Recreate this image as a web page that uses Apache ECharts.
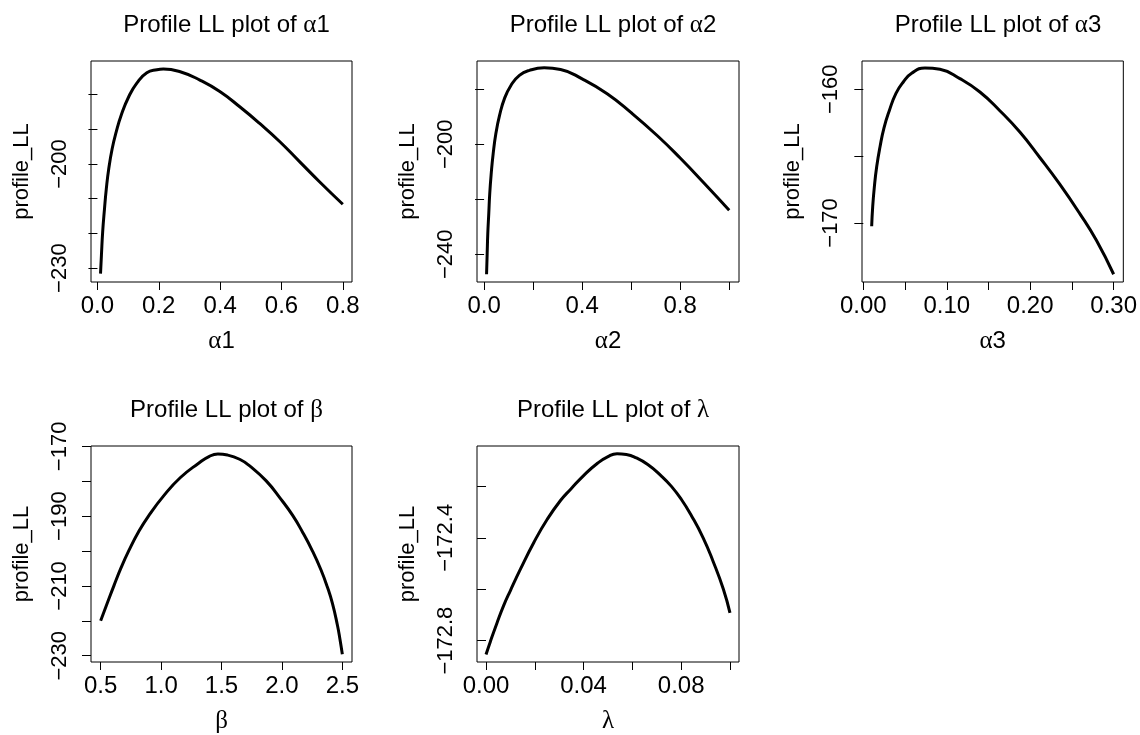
<!DOCTYPE html>
<html>
<head>
<meta charset="utf-8">
<title>Profile LL plots</title>
<script src="https://cdn.jsdelivr.net/npm/echarts@6/dist/echarts.min.js"></script>
<style>
  html, body { margin: 0; padding: 0; background: #fff; }
  #chart { width: 1140px; height: 735px; }
</style>
</head>
<body>
<div id="chart"></div>
<script>
// values
const alpha1X = [0.01, 0.013, 0.017, 0.023, 0.029, 0.037, 0.048, 0.061, 0.078, 0.102, 0.129, 0.161, 0.194, 0.215, 0.27, 0.334, 0.399, 0.464, 0.529, 0.594, 0.659, 0.724, 0.8]
const alpha1Y = [-231.6, -226.3, -219.6, -212.9, -207.1, -201.3, -195.6, -190.8, -185.8, -180.6, -176.6, -173.7, -172.8, -172.6, -173.4, -175.8, -179.1, -183.5, -188.3, -193.5, -199.3, -205.1, -211.6]

const alpha2X = [0.01, 0.0125, 0.015, 0.019, 0.023, 0.029, 0.037, 0.048, 0.063, 0.083, 0.11, 0.144, 0.185, 0.245, 0.312, 0.4, 0.502, 0.6, 0.706, 0.8, 0.897, 1.0]
const alpha2Y = [-247.3, -239.8, -232.5, -225.2, -217.9, -210.7, -203.4, -196.1, -189.5, -183.4, -178.5, -174.9, -173.1, -172.2, -172.8, -176.2, -181.6, -188.5, -196.8, -205.0, -214.1, -224.0]

const alpha3X = [0.01, 0.0112, 0.0132, 0.016, 0.02, 0.0247, 0.0311, 0.0391, 0.0479, 0.0579, 0.0738, 0.0918, 0.1157, 0.1397, 0.1636, 0.1876, 0.2115, 0.2354, 0.2594, 0.2793, 0.3]
const alpha3Y = [-170.25, -168.8, -167.3, -165.8, -164.3, -162.9, -161.6, -160.3, -159.45, -158.8, -158.4, -158.5, -159.2, -160.2, -161.6, -163.2, -165.1, -167.1, -169.3, -171.3, -173.84]

const betaX = [0.5, 0.555, 0.61, 0.67, 0.733, 0.815, 0.897, 1.021, 1.158, 1.308, 1.4, 1.47, 1.55, 1.65, 1.733, 1.87, 1.993, 2.089, 2.171, 2.253, 2.322, 2.377, 2.418, 2.459, 2.48, 2.5]
const betaY = [-220.0, -214.9, -209.9, -204.7, -199.9, -194.4, -189.9, -184.2, -179.0, -174.9, -172.85, -172.2, -172.5, -173.7, -175.6, -179.9, -185.2, -189.8, -194.6, -200.0, -205.3, -210.4, -215.0, -221.2, -225.2, -229.6]

const lambdaX = [0.0, 0.0018, 0.0045, 0.0073, 0.01, 0.0141, 0.0196, 0.0251, 0.0306, 0.0348, 0.0402, 0.0457, 0.05, 0.0537, 0.0575, 0.0609, 0.0663, 0.0718, 0.076, 0.0801, 0.0842, 0.089, 0.0931, 0.0973, 0.1]
const lambdaY = [-172.854, -172.803, -172.731, -172.662, -172.605, -172.522, -172.418, -172.328, -172.254, -172.21, -172.156, -172.11, -172.084, -172.073, -172.076, -172.086, -172.115, -172.159, -172.2, -172.251, -172.314, -172.4, -172.492, -172.6, -172.692]

// ticks and labelled ticks
const alpha1XTicks = [0, 0.2, 0.4, 0.6, 0.8]
const alpha1XLabels = [0, 0.2, 0.4, 0.6, 0.8]
const alpha1YTicks = [-180, -190, -200, -210, -220, -230]
const alpha1YLabels = [-200, -230]

const alpha2XTicks = [0, 0.2, 0.4, 0.6, 0.8, 1.0]
const alpha2XLabels = [0, 0.4, 0.8]
const alpha2YTicks = [-180, -200, -220, -240]
const alpha2YLabels = [-200, -240]

const alpha3XTicks = [0, 0.05, 0.1, 0.15, 0.2, 0.25, 0.3]
const alpha3XLabels = [0, 0.1, 0.2, 0.3]
const alpha3YTicks = [-160, -165, -170]
const alpha3YLabels = [-160, -170]

const betaXTicks = [0.5, 1.0, 1.5, 2.0, 2.5]
const betaXLabels = [0.5, 1.0, 1.5, 2.0, 2.5]
const betaYTicks = [-170, -180, -190, -200, -210, -220, -230]
const betaYLabels = [-170, -190, -210, -230]

const lambdaXTicks = [0, 0.02, 0.04, 0.06, 0.08, 0.1]
const lambdaXLabels = [0, 0.04, 0.08]
const lambdaYTicks = [-172.2, -172.4, -172.6, -172.8]
const lambdaYLabels = [-172.4, -172.8]

const SANS = 'Liberation Sans'
const GREEK = 'Liberation Serif'

// one panel = grid + x axis + y axis + line
const panels = [
  { sym: 'α', sub: '1', x: alpha1X, y: alpha1Y, xt: alpha1XTicks, xl: alpha1XLabels, yt: alpha1YTicks, yl: alpha1YLabels,
    xd: 1, yd: 0, xr: [-0.021, 0.83], yr: [-234.0, -170.3], box: [91, 61, 261, 221] },
  { sym: 'α', sub: '2', x: alpha2X, y: alpha2Y, xt: alpha2XTicks, xl: alpha2XLabels, yt: alpha2YTicks, yl: alpha2YLabels,
    xd: 1, yd: 0, xr: [-0.029, 1.04], yr: [-250.1, -169.7], box: [477, 61, 262, 221] },
  { sym: 'α', sub: '3', x: alpha3X, y: alpha3Y, xt: alpha3XTicks, xl: alpha3XLabels, yt: alpha3YTicks, yl: alpha3YLabels,
    xd: 2, yd: 0, xr: [-0.0016, 0.3116], yr: [-174.42, -157.88], box: [862, 61, 262, 221] },
  { sym: 'β', sub: '', x: betaX, y: betaY, xt: betaXTicks, xl: betaXLabels, yt: betaYTicks, yl: betaYLabels,
    xd: 1, yd: 0, xr: [0.42, 2.58], yr: [-231.8, -169.9], box: [91, 446, 261, 221] },
  { sym: 'λ', sub: '', x: lambdaX, y: lambdaY, xt: lambdaXTicks, xl: lambdaXLabels, yt: lambdaYTicks, yl: lambdaYLabels,
    xd: 2, yd: 1, xr: [-0.0037, 0.1037], yr: [-172.883, -172.043], box: [477, 446, 262, 221] }
]

const fmt = (v, d) => Number(v).toFixed(d).replace('-', '\u2212')

const richText = {
  t: { fontFamily: SANS, fontSize: 24, fontWeight: 'normal', color: '#000' },
  g: { fontFamily: GREEK, fontSize: 25, fontWeight: 'normal', color: '#000' }
}

const option = {
  backgroundColor: '#fff',
  animation: false,
  title: [],
  grid: [],
  xAxis: [],
  yAxis: [],
  series: []
}

panels.forEach((p, i) => {
  const [left, top, width, height] = p.box
  option.title.push({
    text: '{t|Profile LL plot of }{g|' + p.sym + '}{t|' + p.sub + '}',
    left: left + width / 2,
    top: top - 53,
    textAlign: 'center',
    textStyle: { fontFamily: SANS, fontSize: 24, fontWeight: 'normal', color: '#000', rich: richText }
  })
  option.grid.push({
    left: left, top: top, width: width, height: height,
    show: true, borderColor: '#000', borderWidth: 1, backgroundColor: 'transparent'
  })
  option.xAxis.push({
    type: 'value',
    gridIndex: i,
    min: p.xr[0],
    max: p.xr[1],
    name: '{g|' + p.sym + '}{t|' + p.sub + '}',
    nameLocation: 'middle',
    nameGap: 47,
    nameTextStyle: { rich: richText },
    axisLine: { show: false },
    splitLine: { show: false },
    axisTick: { show: true, length: 8, customValues: p.xt, lineStyle: { color: '#000', width: 1 } },
    axisLabel: {
      customValues: p.xl,
      margin: 12,
      fontFamily: SANS,
      fontSize: 24,
      color: '#000',
      formatter: (v) => fmt(v, p.xd)
    }
  })
  option.yAxis.push({
    type: 'value',
    gridIndex: i,
    min: p.yr[0],
    max: p.yr[1],
    name: 'profile_LL',
    nameLocation: 'middle',
    nameGap: 58,
    nameRotate: 90,
    nameTextStyle: { fontFamily: SANS, fontSize: 22, color: '#000' },
    axisLine: { show: false },
    splitLine: { show: false },
    axisTick: { show: true, length: 9, customValues: p.yt, lineStyle: { color: '#000', width: 1 } },
    axisLabel: {
      customValues: p.yl,
      rotate: 90,
      margin: 20,
      fontFamily: SANS,
      fontSize: 22,
      color: '#000',
      formatter: (v) => fmt(v, p.yd)
    }
  })
  option.series.push({
    type: 'line',
    xAxisIndex: i,
    yAxisIndex: i,
    data: p.x.map((v, k) => [v, p.y[k]]),
    smooth: 0.5,
    showSymbol: false,
    lineStyle: { color: '#000', width: 3 }
  })
})

const chart = echarts.init(document.getElementById('chart'), null, { renderer: 'canvas' })
chart.setOption(option)
</script>
</body>
</html>
